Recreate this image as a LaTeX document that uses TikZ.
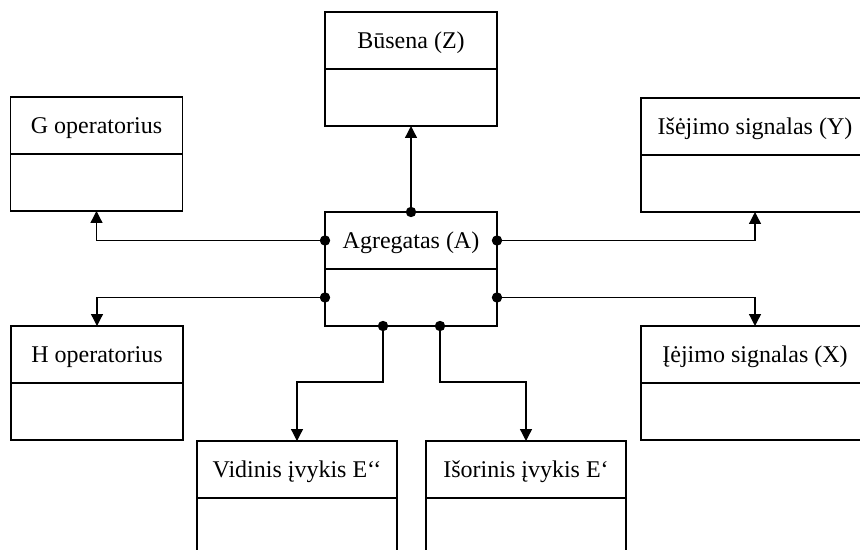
\documentclass[tikz,border=0pt]{standalone}
\usepackage{fontspec}
\setmainfont{Liberation Serif}
\usetikzlibrary{arrows.meta}
\begin{document}
\begin{tikzpicture}[x=0.5pt,y=-0.5pt,
  line width=0.65pt,
  cell/.style={draw, line width=0.65pt, minimum height=28.5pt, minimum width=#1,
    inner sep=0pt, outer sep=0pt},
  head/.style={cell=#1, text height=8pt, text depth=0pt,
    font=\fontsize{12pt}{14pt}\selectfont},
  body/.style={cell=#1, anchor=north},
  link/.style={-{Triangle[length=6pt,width=6pt]}},
  joint/.style={fill=black}]
\clip (0,0) rectangle (860,550);

% class boxes: title compartment + empty compartment below
\node[head=86pt] (busT) at (411,40.5) {Būsena (Z)};
\node[body=86pt] (busB) at (busT.south) {};

\node[head=86pt] (agrT) at (411,240.5) {Agregatas (A)};
\node[body=86pt] (agrB) at (agrT.south) {};

\node[head=86pt] (gT) at (96.5,125.5) {G operatorius};
\node[body=86pt] (gB) at (gT.south) {};

\node[head=114pt] (yT) at (755,126.5) {Išėjimo signalas (Y)};
\node[body=114pt] (yB) at (yT.south) {};

\node[head=86pt] (hT) at (97,354.5) {H operatorius};
\node[body=86pt] (hB) at (hT.south) {};

\node[head=114pt] (xT) at (755,354.5) {Įėjimo signalas (X)};
\node[body=114pt] (xB) at (xT.south) {};

\node[head=100pt] (vidT) at (297,469.5) {Vidinis įvykis E‘‘};
\node[body=100pt] (vidB) at (vidT.south) {};

\node[head=100pt] (isoT) at (526,469.5) {Išorinis įvykis E‘};
\node[body=100pt] (isoB) at (isoT.south) {};

% connection points on the bottom edge of the aggregate
\coordinate (b1) at ([xshift=-14pt]agrB.south);
\coordinate (b2) at ([xshift=14.5pt]agrB.south);

% connectors
\draw[link] (agrT.north) -- (busB.south);
\draw[link] (agrT.west) -| (gB.south);
\draw[link] (agrT.east) -| (yB.south);
\draw[link] (agrB.west) -| (hT.north);
\draw[link] (agrB.east) -| (xT.north);
\draw[link] (b1) -- ++(0,56) -| (vidT.north);
\draw[link] (b2) -- ++(0,56) -| (isoT.north);

% joints
\foreach \p in {agrT.north, agrT.west, agrT.east, agrB.west, agrB.east, b1, b2}
  \fill[joint] (\p) circle (2.6pt);
\end{tikzpicture}
\end{document}
